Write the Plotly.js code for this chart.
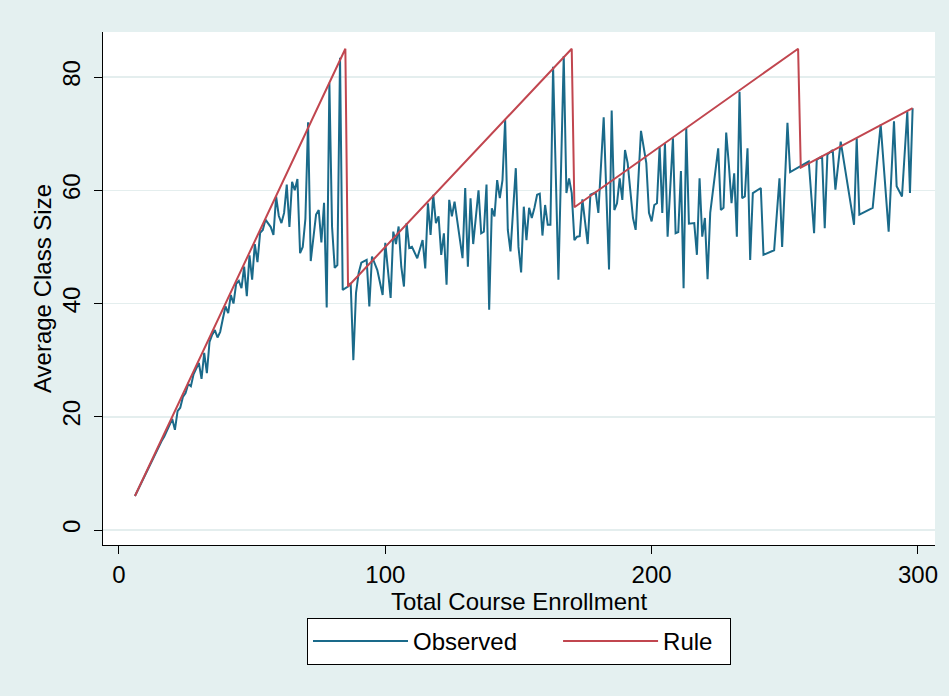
<!DOCTYPE html>
<html>
<head>
<meta charset="utf-8">
<script src="https://cdn.plot.ly/plotly-3.0.1.min.js"></script>
<style>html,body{margin:0;padding:0;background:#e4f0f0;}#chart{width:949px;height:696px;}</style>
</head>
<body>
<div id="chart"></div>
<script>
// Observed: total course enrollment vs average class size
var enrollment = [6,8,10,12,14,15,16,17,18,19,20,21,22,23,24,25,26,27,28,29,30,31,32,33,34,35,36,37,38,39,40,41,42,43,44,45,46,47,48,49,50,51,52,53,54,55,56,57,58,59,60,61,62,63,64,65,66,67,68,69,70,71,72,74,75,76,77,78,79,80,81,82,83,84,86,87,88,89,90,91,93,94,95,97,99,100,102,103,104,105,106,107,108,109,110,112,114,115,116,117,118,119,120,121,122,123,124,125,126,129,130,131,132,133,135,136,137,138,139,140,141,142,143,144,145,146,147,149,150,151,152,153,154,155,156,157,158,159,160,161,162,163,165,167,168,169,170,171,172,173,174,176,177,179,180,182,184,185,186,187,188,189,190,191,193,194,196,198,199,200,201,202,203,204,205,206,208,209,210,211,212,213,214,216,217,218,219,220,221,222,225,226,227,228,229,230,231,232,233,234,235,236,237,238,241,242,246,248,249,251,252,256,259,261,262,264,265,266,268,269,271,276,277,278,283,286,289,291,292,294,296,297,298];
var observed = [6,8,10,12,14,14.8,15.7,16.5,17.5,18.5,19.6,17.7,21,21.6,23.5,24.2,25.8,25.4,27.5,28.5,29.5,26.7,31.3,27.7,33.2,34.5,35.3,34,35,37.3,39.5,38.3,41.5,40,43.5,44,42.7,46.5,41.3,48.5,44.2,50.5,47.3,52.5,53,54.8,54.2,53.5,52.1,58.9,55.5,54.2,56,61,53.5,61.5,60,62,48.9,50,55,72,47.5,55.7,56.5,50.8,57.8,39.3,79,53.6,46.3,46.8,83.4,42.4,43,43.6,30,41.9,45.4,47.2,47.7,39.5,48.3,45.9,41.5,50.7,41,52.7,50.5,53.6,46.5,43,54.2,49.8,50,48,51.2,46.2,57.7,52.1,59.2,54.2,55.4,48.6,52.4,43.3,58.3,55.4,58,48,60.4,46.5,58.6,50.5,60,52.4,52.7,61,38.9,56.8,55.4,61.8,58.6,61.8,72.4,53,49.2,63.9,50,45.5,57.1,51.2,56.9,55.1,56.9,59.2,59.4,52,57.4,53.9,53.9,81.8,44.2,83.7,59.5,62.1,59.5,51.2,51.8,51.9,58.4,50.5,59.2,59.6,56,72.9,46,74.1,56.5,57.7,62.1,58.3,67.1,64.8,55.1,53,70.5,64.8,56,54.5,57.4,57.7,67.7,56,68.3,51.8,69.2,52.4,52.6,63.4,42.7,71,54.1,54.2,48.6,62.1,51.8,55.1,44.3,56,67.4,56.5,56.9,70.2,64.5,57.7,63,51.8,77.4,58.6,58.9,67.4,47.7,59.5,60.4,48.6,49.4,62.1,50,71.9,63.2,64.3,65.1,52.4,65.4,66,53.3,66.3,67.1,60.1,68.6,53.9,69.2,55.7,56.9,71.6,52.7,72.2,60.7,58.9,73.9,59.5,74.5];
// Rule: breakpoints of the class-size rule line
var ruleEnrollment = [6,85,86,170,171,255,256,298];
var ruleSize = [6,85,43,85,57,85,64,74.5];
var yTicks = [0,20,40,60,80];
var xTicks = [0,100,200,300];
var seriesNames = ["Observed","Rule"];

// legend spacing padding (whitespace only)
var padAfter = ["\u2003\u2002", "\u2002"];

var traces = [
  {x: enrollment, y: observed, type: "scatter", mode: "lines", name: seriesNames[0] + padAfter[0],
   line: {color: "#1a6a8a", width: 2}},
  {x: ruleEnrollment, y: ruleSize, type: "scatter", mode: "lines", name: seriesNames[1] + padAfter[1],
   line: {color: "#c1464f", width: 2}}
];

var fam = "Liberation Sans, Arial, sans-serif";
var layout = {
  width: 949, height: 696,
  paper_bgcolor: "#e4f0f0", plot_bgcolor: "#ffffff",
  margin: {l: 103, r: 14, t: 32, b: 151},
  font: {family: fam, size: 24, color: "#000"},
  showlegend: true,
  legend: {orientation: "h", x: 0.5, xanchor: "center", y: -0.142, yanchor: "top",
    bgcolor: "#ffffff", bordercolor: "#000", borderwidth: 1,
    font: {size: 24, family: fam}, itemwidth: 95, traceorder: "normal"},
  xaxis: {range: [-6, 306.4], tickvals: xTicks, ticktext: xTicks.map(String),
    ticks: "outside", ticklen: 8, tickwidth: 1, tickcolor: "#000",
    showline: true, linecolor: "#000", linewidth: 1, showgrid: false, zeroline: false,
    tickfont: {size: 24}, title: {text: "Total Course Enrollment", font: {size: 24}, standoff: 0}},
  yaxis: {range: [-2.65, 87.95], tickvals: yTicks, ticktext: yTicks.map(String),
    ticks: "outside", ticklen: 8, tickwidth: 1, tickcolor: "#000", tickangle: -90,
    ticklabelstandoff: 4,
    showline: true, linecolor: "#000", linewidth: 1, showgrid: true, gridcolor: "#e4eeee", gridwidth: 1.5,
    zeroline: false, tickfont: {size: 24},
    title: {text: "Average Class Size", font: {size: 24}, standoff: 0}}
};
Plotly.newPlot("chart", traces, layout, {displayModeBar: false, staticPlot: true});
</script>
</body>
</html>
